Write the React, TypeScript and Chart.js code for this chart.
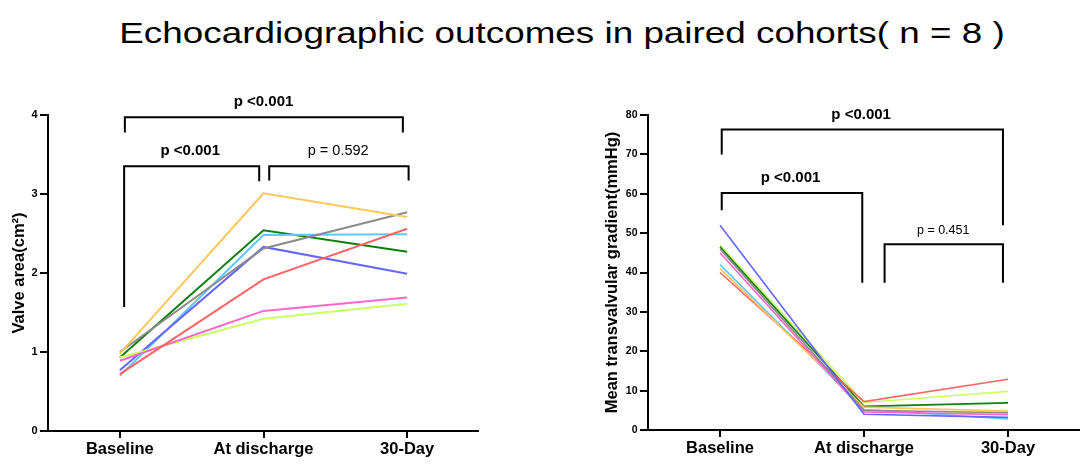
import React, { useEffect, useRef } from "react";
import { Chart, registerables } from "chart.js";
Chart.register(...registerables);

const FONT = "'Liberation Sans', Arial, sans-serif";
Chart.defaults.font.family = FONT;

const categories = ["Baseline", "At discharge", "30-Day"];
const titleText = "Echocardiographic outcomes in paired cohorts( n = 8 )";

// Patient colours
const colOrange = "#FFC65C";
const colGray = "#8A8A8A";
const colGreen = "#0E7F0E";
const colLightBlue = "#5CC8FF";
const colBlue = "#6666FF";
const colRed = "#FF6464";
const colPink = "#FF66CC";
const colYellowGreen = "#CCFF66";

// Valve area (cm²)
const vaOrange = [0.98, 3.01, 2.71];
const vaGray = [1.0, 2.31, 2.77];
const vaGreen = [0.93, 2.54, 2.27];
const vaLightBlue = [0.7, 2.48, 2.49];
const vaBlue = [0.77, 2.33, 1.99];
const vaRed = [0.72, 1.92, 2.56];
const vaPink = [0.89, 1.52, 1.69];
const vaYellowGreen = [0.93, 1.42, 1.61];

// Mean transvalvular gradient (mmHg)
const mgBlue = [52, 4, 3.2];
const mgYellowGreen = [47, 7, 9.8];
const mgGreen = [46.5, 6, 6.9];
const mgGray = [46, 5, 4.4];
const mgPink = [45, 4.6, 3.9];
const mgLightBlue = [42, 5.2, 2.8];
const mgOrange = [41, 5.8, 4.8];
const mgRed = [40, 7.2, 12.9];

const vaTicks = [0, 1, 2, 3, 4];
const mgTicks = [0, 10, 20, 30, 40, 50, 60, 70, 80];

const leftSeries = [
  [vaOrange, colOrange],
  [vaGray, colGray],
  [vaRed, colRed],
  [vaPink, colPink],
  [vaYellowGreen, colYellowGreen],
  [vaBlue, colBlue],
  [vaLightBlue, colLightBlue],
  [vaGreen, colGreen],
];
const rightSeries = [
  [mgBlue, colBlue],
  [mgGray, colGray],
  [mgPink, colPink],
  [mgOrange, colOrange],
  [mgRed, colRed],
  [mgLightBlue, colLightBlue],
  [mgGreen, colGreen],
  [mgYellowGreen, colYellowGreen],
];

// significance brackets (data units)
const leftBrackets = [
  { x0: 0.035, x1: 1.97, y: 3.97, leg0: 3.78, leg1: 3.78, label: "p <0.001", lx: 1.0, ly: 4.17, bold: true, size: 15 },
  { x0: 0.03, x1: 0.97, y: 3.35, leg0: 1.57, leg1: 3.16, label: "p <0.001", lx: 0.49, ly: 3.55, bold: true, size: 15 },
  { x0: 1.04, x1: 2.01, y: 3.35, leg0: 3.17, leg1: 3.17, label: "p = 0.592", lx: 1.52, ly: 3.55, bold: false, size: 14.5 },
];
const rightBrackets = [
  { x0: 0.012, x1: 1.965, y: 76.3, leg0: 70.0, leg1: 52.0, label: "p <0.001", lx: 0.98, ly: 80, bold: true, size: 15 },
  { x0: 0.012, x1: 0.988, y: 60.2, leg0: 55.8, leg1: 37.4, label: "p <0.001", lx: 0.49, ly: 64.0, bold: true, size: 15 },
  { x0: 1.143, x1: 1.965, y: 47.2, leg0: 37.4, leg1: 37.4, label: "p = 0.451", lx: 1.55, ly: 50.6, bold: false, size: 12.5 },
];

const bracketPlugin = {
  id: "brackets",
  afterDraw(chart: any, _args: any, opts: any) {
    const list = opts.list || [];
    const { ctx } = chart;
    const xs = chart.scales.x;
    const ys = chart.scales.y;
    ctx.save();
    ctx.strokeStyle = "#000";
    ctx.lineWidth = 2;
    ctx.lineCap = "butt";
    ctx.lineJoin = "miter";
    for (const b of list) {
      const px0 = xs.getPixelForValue(b.x0);
      const px1 = xs.getPixelForValue(b.x1);
      const py = ys.getPixelForValue(b.y);
      ctx.beginPath();
      ctx.moveTo(px0, ys.getPixelForValue(b.leg0));
      ctx.lineTo(px0, py);
      ctx.lineTo(px1, py);
      ctx.lineTo(px1, ys.getPixelForValue(b.leg1));
      ctx.stroke();
      ctx.fillStyle = "#000";
      ctx.font = `${b.bold ? "bold " : ""}${b.size}px ${FONT}`;
      ctx.textAlign = "center";
      ctx.textBaseline = "middle";
      ctx.fillText(b.label, xs.getPixelForValue(b.lx), ys.getPixelForValue(b.ly));
    }
    ctx.restore();
  },
};

function buildConfig(p: any) {
  return {
    type: "line",
    data: {
      datasets: p.series.map(([vals, color]: any) => ({
        data: vals.map((v: number, i: number) => ({ x: i, y: v })),
        borderColor: color,
        backgroundColor: color,
        borderWidth: p.lineWidth,
        pointRadius: 0,
        tension: 0,
        fill: false,
      })),
    },
    options: {
      responsive: false,
      animation: false,
      maintainAspectRatio: false,
      layout: { padding: { left: 0, right: 0, top: p.top, bottom: 0 } },
      plugins: {
        legend: { display: false },
        tooltip: { enabled: false },
        brackets: { list: p.brackets },
      },
      scales: {
        x: {
          type: "linear",
          min: -0.5,
          max: 2.5,
          afterBuildTicks: (s: any) => {
            s.ticks = categories.map((_c, i) => ({ value: i }));
          },
          afterFit: (s: any) => {
            s.height = p.xHeight;
          },
          ticks: {
            callback: (v: any) => categories[v],
            font: { size: 16.5, weight: "bold", family: FONT },
            color: "#000",
            padding: 1.5,
            autoSkip: false,
            maxRotation: 0,
          },
          grid: { display: true, drawOnChartArea: false, drawTicks: true, tickLength: 7, color: "#000", lineWidth: 2 },
          border: { display: true, color: "#000", width: 2 },
        },
        y: {
          type: "linear",
          min: p.yTicks[0],
          max: p.yTicks[p.yTicks.length - 1],
          afterBuildTicks: (s: any) => {
            s.ticks = p.yTicks.map((v: number) => ({ value: v }));
          },
          afterFit: (s: any) => {
            s.width = p.yWidth;
          },
          ticks: {
            font: { size: p.yTickSize, weight: "bold", family: FONT },
            color: "#000",
            padding: 2.5,
          },
          grid: { display: true, drawOnChartArea: false, drawTicks: true, tickLength: 8, color: "#000", lineWidth: 2 },
          border: { display: true, color: "#000", width: 2 },
          title: {
            display: true,
            text: p.yTitle,
            color: "#000",
            font: { size: 16.5, weight: "bold", family: FONT },
            padding: { top: p.titlePad, bottom: 0 },
          },
        },
      },
    },
    plugins: [bracketPlugin],
  };
}

function ChartCanvas(props: any) {
  const ref = useRef<HTMLCanvasElement | null>(null);
  useEffect(() => {
    if (!ref.current) return;
    const chart = new Chart(ref.current, buildConfig(props.cfg) as any);
    return () => chart.destroy();
  }, []);
  return (
    <canvas
      ref={ref}
      width={props.width}
      height={props.height}
      style={{ position: "absolute", left: props.left, top: 0, width: props.width, height: props.height }}
    />
  );
}

export default function App() {
  return (
    <div style={{ position: "absolute", left: 0, top: 0, width: 1080, height: 467, background: "#fff", overflow: "hidden" }}>
      <div
        style={{
          position: "absolute",
          left: 21.5,
          top: 18.8,
          width: 1080,
          textAlign: "center",
          fontFamily: FONT,
          fontSize: 29,
          lineHeight: "29px",
          color: "#000",
          whiteSpace: "nowrap",
          transform: "scaleX(1.27)",
          transformOrigin: "center",
        }}
      >
        {titleText}
      </div>
      <ChartCanvas
        left={0}
        width={479}
        height={467}
        cfg={{
          series: leftSeries,
          lineWidth: 2,
          top: 115,
          xHeight: 36,
          yWidth: 48,
          yTicks: vaTicks,
          yTickSize: 11,
          yTitle: "Valve area(cm²)",
          titlePad: 9.4,
          brackets: leftBrackets,
        }}
      />
      <ChartCanvas
        left={590}
        width={490}
        height={467}
        cfg={{
          series: rightSeries,
          lineWidth: 1.6,
          top: 115,
          xHeight: 37,
          yWidth: 58,
          yTicks: mgTicks,
          yTickSize: 10.5,
          yTitle: "Mean transvalvular gradient(mmHg)",
          titlePad: 12.6,
          brackets: rightBrackets,
        }}
      />
    </div>
  );
}
